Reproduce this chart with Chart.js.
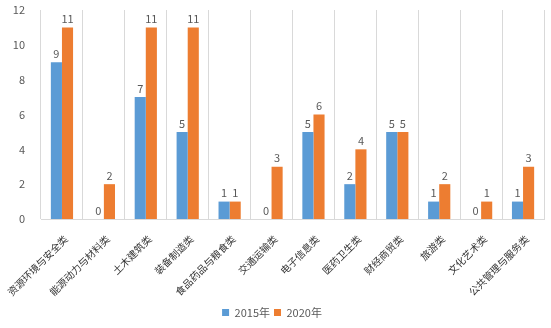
<!DOCTYPE html>
<html>
<head>
<meta charset="utf-8">
<script src="https://cdn.jsdelivr.net/npm/chart.js@4"></script>
<style>
  html, body { margin: 0; padding: 0; background: #fff; }
  #wrap { width: 551px; height: 328px; }
</style>
</head>
<body>
<div id="wrap"><canvas id="chart"></canvas></div>
<script>
const categorias = ["资源环境与安全类", "能源动力与材料类", "土木建筑类", "装备制造类", "食品药品与粮食类", "交通运输类", "电子信息类", "医药卫生类", "财经商贸类", "旅游类", "文化艺术类", "公共管理与服务类"];
const valores2015 = [9, 0, 7, 5, 1, 0, 5, 2, 5, 1, 0, 1];
const valores2020 = [11, 2, 11, 11, 1, 3, 6, 4, 5, 2, 1, 3];
const rotulosSerie = ["2015年", "2020年"];

const fonte = "'Noto Sans CJK SC', 'Noto Sans', sans-serif";

// escreve o valor em cima de cada barra
const rotulosValor = {
  id: "rotulosValor",
  afterDatasetsDraw(chart) {
    const ctx = chart.ctx;
    ctx.save();
    ctx.font = "11px " + fonte;
    ctx.fillStyle = "#595959";
    ctx.textAlign = "center";
    ctx.textBaseline = "bottom";
    chart.data.datasets.forEach((ds, i) => {
      chart.getDatasetMeta(i).data.forEach((bar, j) => {
        ctx.fillText(String(ds.data[j]), bar.x, bar.y - 3);
      });
    });
    ctx.restore();
  }
};

new Chart(document.getElementById("chart"), {
  type: "bar",
  data: {
    labels: categorias,
    datasets: [
      { label: rotulosSerie[0], data: valores2015, backgroundColor: "#5B9BD5" },
      { label: rotulosSerie[1], data: valores2020, backgroundColor: "#ED7D31" }
    ]
  },
  options: {
    responsive: true,
    maintainAspectRatio: false,
    animation: false,
    layout: { padding: { top: 10, right: 7, left: 0, bottom: 0 } },
    datasets: { bar: { categoryPercentage: 0.53, barPercentage: 1 } },
    plugins: {
      legend: {
        position: "bottom",
        labels: {
          boxWidth: 7, boxHeight: 7, padding: 4,
          color: "#595959",
          font: { family: fonte, size: 11 }
        }
      },
      tooltip: { enabled: false }
    },
    scales: {
      x: {
        grid: { display: true, offset: true, color: "#d9d9d9", drawTicks: false },
        border: { display: true, color: "#d9d9d9" },
        ticks: {
          color: "#333333", padding: 14, labelOffset: 4,
          minRotation: 45, maxRotation: 45,
          font: { family: fonte, size: 10 }
        },
        afterFit(scale) {
          scale.paddingLeft = 0;
          scale.paddingRight = 0;
          scale.height = 84;
        }
      },
      y: {
        min: 0, max: 12,
        grid: { display: false },
        border: { display: false },
        ticks: {
          stepSize: 2, color: "#595959", padding: 8,
          font: { family: fonte, size: 11 }
        },
        afterFit(scale) {
          scale.width = 41;
          scale.paddingTop = 0;
          scale.paddingBottom = 0;
        }
      }
    }
  },
  plugins: [rotulosValor]
});
</script>
</body>
</html>
